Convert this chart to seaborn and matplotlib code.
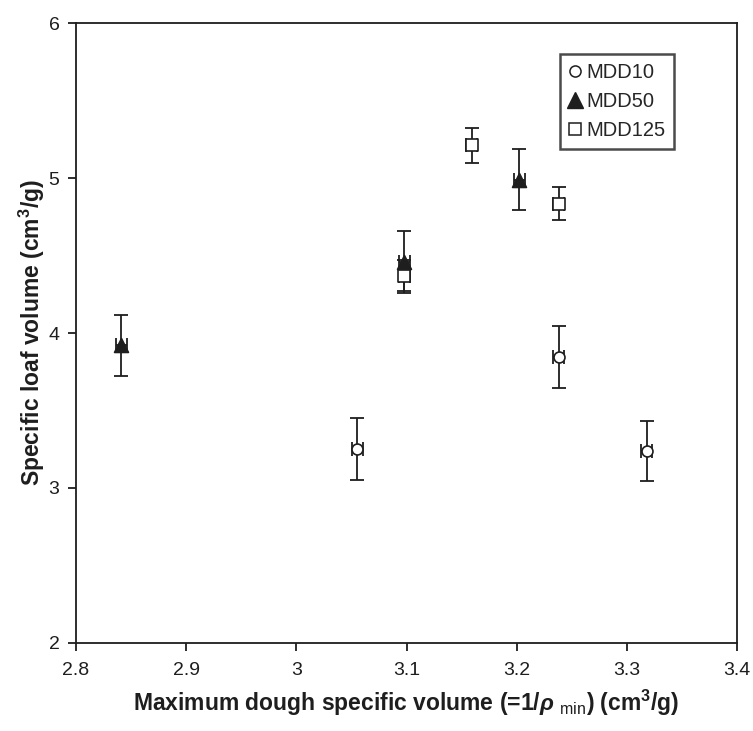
import matplotlib
matplotlib.use("Agg")
import matplotlib.pyplot as plt
import seaborn as sns
import pandas as pd
import numpy as np
from matplotlib.lines import Line2D

# ---- data ----
series_names = ["MDD10", "MDD50", "MDD125"]
mdd10_x = [3.055, 3.238, 3.318]
mdd10_y = [3.25, 3.845, 3.24]
mdd10_yerr = [0.20, 0.20, 0.195]
mdd10_xerr = [0.005, 0.005, 0.005]

mdd50_x = [2.841, 3.098, 3.202]
mdd50_y = [3.92, 4.46, 4.99]
mdd50_yerr = [0.195, 0.20, 0.195]
mdd50_xerr = [0.005, 0.005, 0.005]

mdd125_x = [3.098, 3.159, 3.238]
mdd125_y = [4.37, 5.21, 4.835]
mdd125_yerr = [0.10, 0.11, 0.105]
mdd125_xerr = [0.005, 0.005, 0.005]

x_ticks = [2.8, 2.9, 3.0, 3.1, 3.2, 3.3, 3.4]
x_tick_labels = ["2.8", "2.9", "3", "3.1", "3.2", "3.3", "3.4"]
y_ticks = [2, 3, 4, 5, 6]

df = pd.DataFrame({
    "x": mdd10_x + mdd50_x + mdd125_x,
    "y": mdd10_y + mdd50_y + mdd125_y,
    "xerr": mdd10_xerr + mdd50_xerr + mdd125_xerr,
    "yerr": mdd10_yerr + mdd50_yerr + mdd125_yerr,
    "series": ["MDD10"] * 3 + ["MDD50"] * 3 + ["MDD125"] * 3,
})

sns.set_style("ticks")
plt.rcParams["font.family"] = ["Liberation Sans", "DejaVu Sans"]
plt.rcParams["mathtext.fontset"] = "custom"
plt.rcParams["mathtext.rm"] = "Liberation Sans:bold"
plt.rcParams["mathtext.it"] = "Liberation Sans:bold:italic"
plt.rcParams["mathtext.bf"] = "Liberation Sans:bold"
plt.rcParams["mathtext.sf"] = "Liberation Sans"

fig = plt.figure(figsize=(7.53, 7.31), dpi=100)
ax = fig.add_axes([0.101, 0.1204, 0.878, 0.8481])

ink = "#1e1e1e"
markers = {"MDD10": "o", "MDD50": "^", "MDD125": "s"}
faces = {"MDD10": "white", "MDD50": ink, "MDD125": "white"}
sizes = {"MDD10": 62, "MDD50": 100, "MDD125": 64}

# error bars (behind markers)
ax.errorbar(df["x"], df["y"], xerr=df["xerr"], yerr=df["yerr"], fmt="none",
            ecolor=ink, elinewidth=1.3, capsize=4.8, capthick=1.3, zorder=2)

for name in series_names:
    sub = df[df["series"] == name]
    sns.scatterplot(data=sub, x="x", y="y", marker=markers[name], s=sizes[name],
                    color=faces[name], edgecolor=ink, linewidth=1.2,
                    ax=ax, zorder=3, label=name, legend=False)

ax.set_xlim(2.8, 3.4)
ax.set_ylim(2, 6)
ax.set_xticks(x_ticks)
ax.set_xticklabels(x_tick_labels)
ax.set_yticks(y_ticks)
ax.tick_params(axis="both", direction="out", length=6, width=1.3, colors=ink,
               labelsize=14)
ax.tick_params(axis="x", pad=8)
ax.tick_params(axis="y", pad=6)
for sp in ax.spines.values():
    sp.set_visible(True)
    sp.set_color(ink)
    sp.set_linewidth(1.3)

ax.set_xlabel(r"Maximum dough specific volume (=1/$\rho$ $\mathsf{_{min}}$) (cm$^3$/g)",
              fontsize=16.5, fontweight="bold", color=ink, labelpad=6)
ax.set_ylabel(r"Specific loaf volume (cm$^3$/g)", fontsize=16.5,
              fontweight="bold", color=ink, labelpad=1)

handles = [
    Line2D([], [], linestyle="none", marker="o", markersize=8, markerfacecolor="white",
           markeredgecolor=ink, markeredgewidth=1.1),
    Line2D([], [], linestyle="none", marker="^", markersize=11, markerfacecolor=ink,
           markeredgecolor=ink),
    Line2D([], [], linestyle="none", marker="s", markersize=8, markerfacecolor="white",
           markeredgecolor=ink, markeredgewidth=1.1),
]
leg = ax.legend(handles, series_names, loc="upper left", bbox_to_anchor=(0.732, 0.95),
                frameon=True, fancybox=False, edgecolor=ink, fontsize=14.5,
                handlelength=0.6, handletextpad=0.25, borderpad=0.45, labelspacing=0.5,
                borderaxespad=0)
leg.get_frame().set_linewidth(1.8)

fig.savefig("out.png", dpi=100)
